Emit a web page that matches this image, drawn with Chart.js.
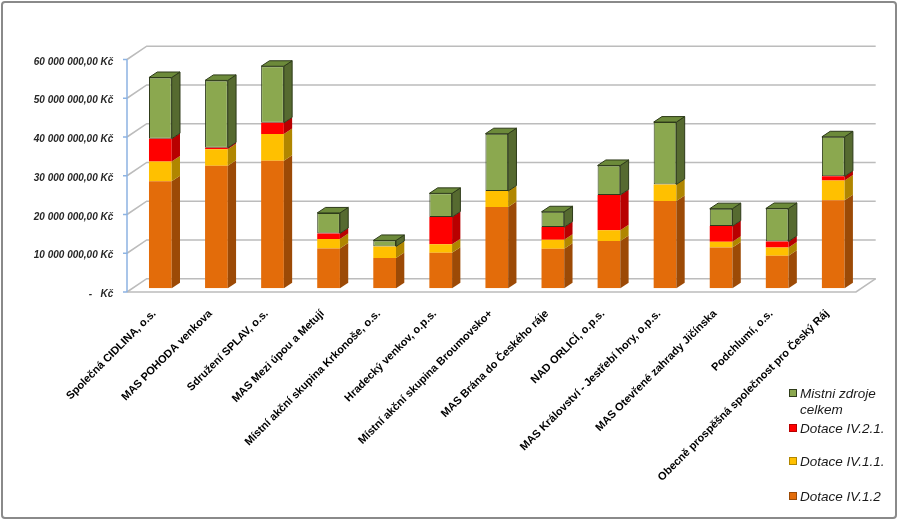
<!DOCTYPE html>
<html>
<head>
<meta charset="utf-8">
<script src="https://cdn.jsdelivr.net/npm/chart.js@4"></script>
<style>
  html, body { margin: 0; padding: 0; background: #fff; }
  #wrap { width: 899px; height: 521px; }
</style>
</head>
<body>
<div id="wrap"><canvas id="chart" width="899" height="521"></canvas></div>
<script>
// kategorie (MAS)
const categories = [
  'Společná CIDLINA, o.s.',
  'MAS POHODA venkova',
  'Sdružení SPLAV, o.s.',
  'MAS Mezi úpou a Metují',
  'Místní akční skupina Krkonoše, o.s.',
  'Hradecký venkov, o.p.s.',
  'Místní akční skupina Broumovsko+',
  'MAS Brána do Českého ráje',
  'NAD ORLICÍ, o.p.s.',
  'MAS Království - Jestřebí hory, o.p.s.',
  'MAS Otevřené zahrady Jičínska',
  'Podchlumí, o.s.',
  'Obecně prospěšná společnost pro Český Ráj'
];

// hodnoty v Kč
const dotaceIV12  = [27600000, 31600000, 32900000, 10300000, 7800000, 9200000, 21000000, 10200000, 12200000, 22500000, 10500000, 8400000, 22700000];
const dotaceIV11  = [5100000, 4300000, 6900000, 2400000, 3000000, 2200000, 4100000, 2300000, 2800000, 4300000, 1500000, 2100000, 5100000];
const dotaceIV21  = [5900000, 350000, 2900000, 1450000, 0, 7000000, 0, 3300000, 9100000, 0, 4050000, 1600000, 1100000];
const mistniZdroje = [15800000, 17400000, 14600000, 5300000, 1550000, 6100000, 14800000, 3950000, 7600000, 16100000, 4500000, 8500000, 10200000];

const seriesNames = ['Dotace IV.1.2', 'Dotace IV.1.1.', 'Dotace IV.2.1.', 'Mistni zdroje celkem'];
const yTicksMax = 60000000;
const yTickStep = 10000000;

// barvy: čelo, bok, vršek, okraj
const frontColors = ['#e36c0a', '#ffc000', '#ff0000', '#8ba84f'];
const sideColors  = ['#9c4a06', '#b08600', '#b80000', '#566a30'];
const topColors   = ['#c55d08', '#e0a800', '#dd0000', '#6c8a3a'];
const edgeColors  = ['#d8680c', '#f5b800', '#f00000', '#2e3b1a'];
const edgeWidths  = [0, 0, 0, 1];

// 3D posuny vůči rovině sloupců
const FRONT = { dx: -5.3, dy: 3.7 };
const BACK = { dx: 14.4, dy: -9.6 };
const DEPTH = { dx: 8.3, dy: -5.5 };

const wall3d = {
  id: 'wall3d',
  beforeDatasetsDraw(chart) {
    const { ctx, chartArea: a, scales: { y } } = chart;
    ctx.save();
    ctx.strokeStyle = '#bcbcbc';
    ctx.lineWidth = 1.6;
    y.ticks.forEach(t => {
      const py = y.getPixelForValue(t.value);
      ctx.beginPath();
      ctx.moveTo(a.left + FRONT.dx, py + FRONT.dy);
      ctx.lineTo(a.left + BACK.dx, py + BACK.dy);
      ctx.lineTo(a.right + BACK.dx, py + BACK.dy);
      ctx.stroke();
    });
    // podlaha
    const p0 = y.getPixelForValue(0);
    ctx.beginPath();
    ctx.moveTo(a.left + FRONT.dx, p0 + FRONT.dy);
    ctx.lineTo(a.right + FRONT.dx, p0 + FRONT.dy);
    ctx.lineTo(a.right + BACK.dx, p0 + BACK.dy);
    ctx.stroke();
    // modrá osa
    const top = y.getPixelForValue(y.max);
    ctx.strokeStyle = '#8db3e2';
    ctx.lineWidth = 1.5;
    ctx.beginPath();
    ctx.moveTo(a.left + FRONT.dx, top + FRONT.dy);
    ctx.lineTo(a.left + FRONT.dx, p0 + FRONT.dy);
    y.ticks.forEach(t => {
      const py = y.getPixelForValue(t.value) + FRONT.dy;
      ctx.moveTo(a.left + FRONT.dx - 4, py);
      ctx.lineTo(a.left + FRONT.dx, py);
    });
    ctx.stroke();
    ctx.restore();
  }
};

const bars3d = {
  id: 'bars3d',
  afterDatasetsDraw(chart) {
    const { ctx } = chart;
    const sets = chart.data.datasets;
    ctx.save();
    ctx.lineJoin = 'round';
    sets.forEach((ds, di) => {
      const meta = chart.getDatasetMeta(di);
      meta.data.forEach((bar, i) => {
        if (!ds.data[i]) return;
        const l = bar.x - bar.width / 2;
        const r = bar.x + bar.width / 2;
        const t = bar.y, b = bar.base;
        // bok
        ctx.beginPath();
        ctx.moveTo(r, t);
        ctx.lineTo(r + DEPTH.dx, t + DEPTH.dy);
        ctx.lineTo(r + DEPTH.dx, b + DEPTH.dy);
        ctx.lineTo(r, b);
        ctx.closePath();
        ctx.fillStyle = sideColors[di];
        ctx.fill();
        if (edgeWidths[di]) {
          ctx.strokeStyle = edgeColors[di];
          ctx.lineWidth = edgeWidths[di];
          ctx.stroke();
        }
        // vršek jen u nejvyššího dílu
        const above = sets.slice(di + 1).some(s => s.data[i] > 0);
        if (!above) {
          ctx.beginPath();
          ctx.moveTo(l, t);
          ctx.lineTo(l + DEPTH.dx, t + DEPTH.dy);
          ctx.lineTo(r + DEPTH.dx, t + DEPTH.dy);
          ctx.lineTo(r, t);
          ctx.closePath();
          ctx.fillStyle = topColors[di];
          ctx.fill();
          if (edgeWidths[di]) {
            ctx.strokeStyle = edgeColors[di];
            ctx.lineWidth = edgeWidths[di];
            ctx.stroke();
          }
        }
      });
    });
    ctx.restore();
  }
};

const sideLegend = {
  id: 'sideLegend',
  afterDraw(chart) {
    const { ctx } = chart;
    const rows = [
      { i: 3, lines: ['Mistni zdroje', 'celkem'], y: 393 },
      { i: 2, lines: ['Dotace IV.2.1.'], y: 428 },
      { i: 1, lines: ['Dotace IV.1.1.'], y: 461 },
      { i: 0, lines: ['Dotace IV.1.2'], y: 496 }
    ];
    ctx.save();
    ctx.font = 'italic 13.5px "Liberation Sans", Arial, sans-serif';
    ctx.textBaseline = 'middle';
    rows.forEach(row => {
      ctx.fillStyle = frontColors[row.i];
      ctx.fillRect(789, row.y - 4, 8, 8);
      ctx.strokeStyle = row.i === 3 ? '#2e3b1a' : sideColors[row.i];
      ctx.lineWidth = 1;
      ctx.strokeRect(789.5, row.y - 3.5, 7, 7);
      ctx.fillStyle = '#1a1a1a';
      row.lines.forEach((txt, k) => ctx.fillText(txt, 800, row.y + 1 + k * 16));
    });
    // rámeček
    ctx.strokeStyle = '#8a8a8a';
    ctx.lineWidth = 2;
    ctx.beginPath();
    ctx.roundRect(2, 2, 894, 516, 3);
    ctx.stroke();
    ctx.restore();
  }
};

const fmtKc = v => v === 0
  ? '-   Kč'
  : String(v).replace(/\B(?=(\d{3})+(?!\d))/g, ' ') + ',00 Kč';

new Chart(document.getElementById('chart').getContext('2d'), {
  type: 'bar',
  data: {
    labels: categories,
    datasets: [dotaceIV12, dotaceIV11, dotaceIV21, mistniZdroje].map((d, i) => ({
      label: seriesNames[i],
      data: d,
      backgroundColor: frontColors[i],
      borderColor: edgeColors[i],
      borderWidth: edgeWidths[i],
      borderSkipped: false,
      barPercentage: 0.405,
      categoryPercentage: 1
    }))
  },
  options: {
    responsive: false,
    animation: false,
    layout: { padding: { top: 55.8, right: 37.7, left: 0, bottom: 0 } },
    plugins: {
      legend: { display: false },
      tooltip: { enabled: false }
    },
    scales: {
      x: {
        stacked: true,
        grid: { display: false, drawTicks: false },
        border: { display: false },
        ticks: {
          autoSkip: false,
          minRotation: 45,
          maxRotation: 45,
          padding: 19,
          labelOffset: -6,
          color: '#000',
          font: { family: '"Liberation Sans", Arial, sans-serif', size: 11, weight: 'bold' }
        },
        afterFit(scale) { scale.height = 521 - 288.3; }
      },
      y: {
        stacked: true,
        min: 0,
        max: yTicksMax,
        grid: { display: false, drawTicks: false },
        border: { display: false },
        ticks: {
          stepSize: yTickStep,
          padding: 19,
          labelOffset: 6,
          color: '#262626',
          font: { family: '"Liberation Sans", Arial, sans-serif', size: 10, weight: 'bold', style: 'italic' },
          callback: v => fmtKc(v)
        },
        afterFit(scale) { scale.width = 132.3; }
      }
    }
  },
  plugins: [wall3d, bars3d, sideLegend]
});
</script>
</body>
</html>
